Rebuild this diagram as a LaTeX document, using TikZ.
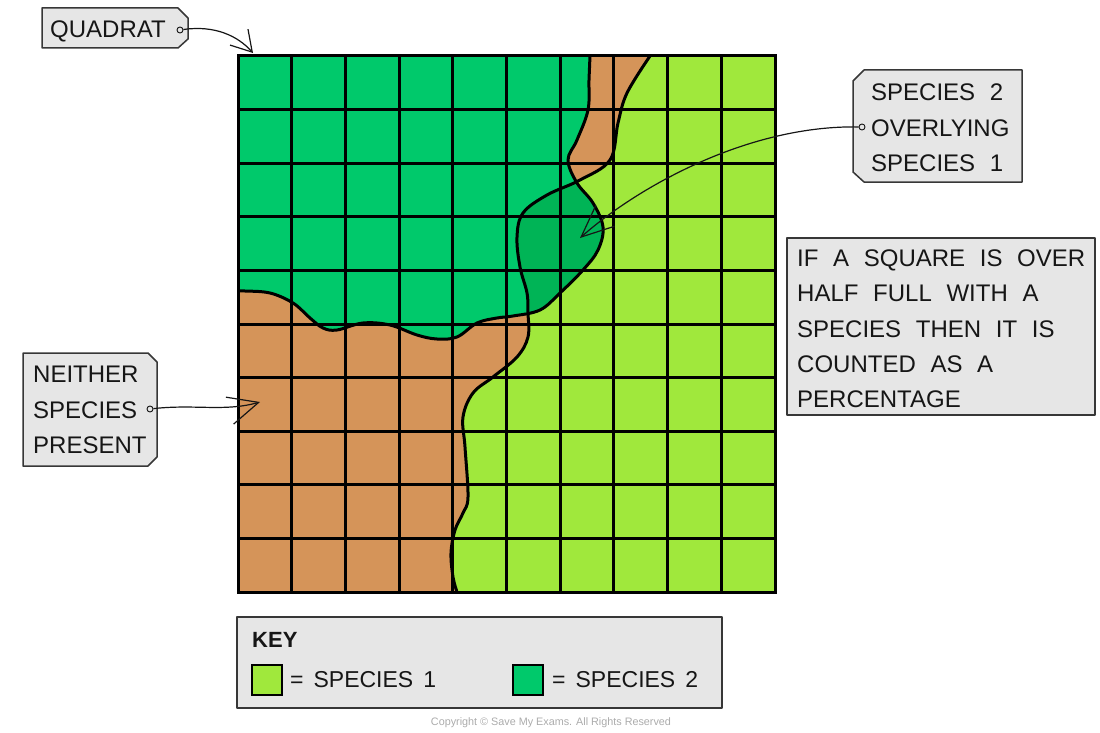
\documentclass[tikz,border=0pt]{standalone}
\usepackage{fontspec}
\setmainfont{Liberation Sans}[WordSpace=2.2]
\newfontfamily\copyfont{Liberation Sans}
\usetikzlibrary{arrows.meta}
\newcommand\keyspacing{\spaceskip=10pt plus 2pt minus 1pt\relax}
\definecolor{sponeclr}{RGB}{160,232,60}
\definecolor{sptwoclr}{RGB}{0,201,107}
\definecolor{overclr}{RGB}{0,180,86}
\definecolor{soilclr}{RGB}{213,148,89}
\definecolor{tagfill}{RGB}{230,230,230}
\definecolor{tagline}{RGB}{55,55,55}
\definecolor{inkclr}{RGB}{22,22,22}
\begin{document}
\begin{tikzpicture}[x=1pt,y=-1pt,
  tag/.style={fill=tagfill,draw=tagline,line width=1.5pt,line join=round},
  lbl/.style={anchor=base west,inner sep=0pt,font=\fontsize{24}{28}\selectfont,text=inkclr},
  keylbl/.style={anchor=base west,inner sep=0pt,font=\fontsize{23}{27}\selectfont\keyspacing,text=inkclr},
  hole/.style={circle,draw=inkclr,fill=tagfill,line width=0.9pt,inner sep=0pt,minimum size=6pt},
  pointer/.style={line width=1.2pt,inkclr},
  edge/.style={line width=3pt,black,line join=round,line cap=round},
  gridline/.style={line width=3pt,black,line cap=rect},
  swatch/.style={draw=black,line width=1.5pt,minimum size=30pt,inner sep=0pt}]

\useasboundingbox (0,0) rectangle (1100,733);

\def\sponecurve{-- plot[smooth,tension=0.6] coordinates {(457,592) (453,577) (451,553) (455,530) (463,513) (468,497) (465,447) (463,417) (473,393) (493,377) (517,357) (528,337) (528,313) (527,293) (520,267) (517,237) (523,213) (547,195) (580,180) (610,160) (618,123) (627,93) (650,56)}}
\def\sptwocurve{-- plot[smooth,tension=0.6] coordinates {(590,56) (589,80) (588,110) (577,140) (568,160) (577,183) (593,203) (603,227) (598,250) (583,270) (560,293) (540,310) (513,316) (497,318) (477,323) (457,337) (437,339) (417,335) (390,325) (363,323) (337,330) (323,328) (310,318) (293,303) (270,293) (245,291) (239,291)}}

% background (neither species)
\fill[soilclr] (238,56) rectangle (775,592);
% species 1
\fill[sponeclr] (650,56) -- (775,56) -- (775,592) -- (457,592) \sponecurve -- cycle;
% species 2
\fill[sptwoclr] (238,56) -- (590,56) \sptwocurve -- (238,291) -- cycle;
% overlap
\begin{scope}
  \clip (650,56) -- (775,56) -- (775,592) -- (457,592) \sponecurve -- cycle;
  \fill[overclr] (238,56) -- (590,56) \sptwocurve -- (238,291) -- cycle;
\end{scope}
% boundaries
\draw[edge] (457,592) \sponecurve;
\draw[edge] (590,56) \sptwocurve;
% grid
\foreach \i in {0,...,10} {
  \draw[gridline] ({238+53.7*\i},56) -- ({238+53.7*\i},592);
  \draw[gridline] (238,{56+53.6*\i}) -- (775,{56+53.6*\i});
}

% QUADRAT tag
\draw[tag] (42,8) -- (178,8) -- (188,18) -- (188,39) -- (178,48) -- (42,48) -- cycle;
\node[lbl] (qtext) at (50,37.5) {QUADRAT};
\node[hole] (qhole) at (180,30) {};
\coordinate (qtip) at (253,53);
\draw[pointer,-{Straight Barb[length=20pt,width=24pt]}] (qhole) .. controls (215,25) and (238,36) .. (qtip);

% NEITHER tag
\draw[tag] (23,353) -- (148,353) -- (157,362) -- (157,457) -- (148,466) -- (23,466) -- cycle;
\node[lbl] (ntext1) at (33,382.7) {NEITHER};
\node[lbl] (ntext2) at (33,418.2) {SPECIES};
\node[lbl] (ntext3) at (33,453.7) {PRESENT};
\node[hole] (nhole) at (150,409) {};
\coordinate (ntip) at (260,402);
\draw[pointer,-{Straight Barb[length=30pt,width=28pt]}] (nhole) .. controls (195,404) and (225,412) .. (ntip);

% OVERLYING tag
\draw[tag] (864,70) -- (1022,70) -- (1022,182) -- (864,182) -- (853,172) -- (853,81) -- cycle;
\node[lbl] (otext1) at (871,100.7) {SPECIES 2};
\node[lbl] (otext2) at (871,136.2) {OVERLYING};
\node[lbl] (otext3) at (871,171.7) {SPECIES 1};
\node[hole] (ohole) at (862,127) {};
\coordinate (otip) at (580,238);
\draw[pointer,-{Straight Barb[length=32pt,width=28pt]}] (ohole) .. controls (750,125) and (640,185) .. (otip);

% rule box
\draw[tag] (787,238) rectangle (1095,415);
\node[lbl] (r1) at (797,266) {IF A SQUARE IS OVER};
\node[lbl] (r2) at (797,301.5) {HALF FULL WITH A};
\node[lbl] (r3) at (797,337) {SPECIES THEN IT IS};
\node[lbl] (r4) at (797,372) {COUNTED AS A};
\node[lbl] (r5) at (797,407) {PERCENTAGE};

% key
\draw[tag] (237,617) rectangle (722,708);
\node[keylbl,font=\fontsize{22}{26}\selectfont\bfseries] (keyt) at (252,647) {KEY};
\node[swatch,fill=sponeclr] (sw1) at (267,680) {};
\node[keylbl] (k1) at (290,687.5) {= SPECIES 1};
\node[swatch,fill=sptwoclr] (sw2) at (528,680) {};
\node[keylbl] (k2) at (552,687.5) {= SPECIES 2};

\node[font=\copyfont\fontsize{10.8}{12}\selectfont,text=black!33] (copy) at (551,723) {Copyright © Save My Exams. All Rights Reserved};
\end{tikzpicture}
\end{document}
